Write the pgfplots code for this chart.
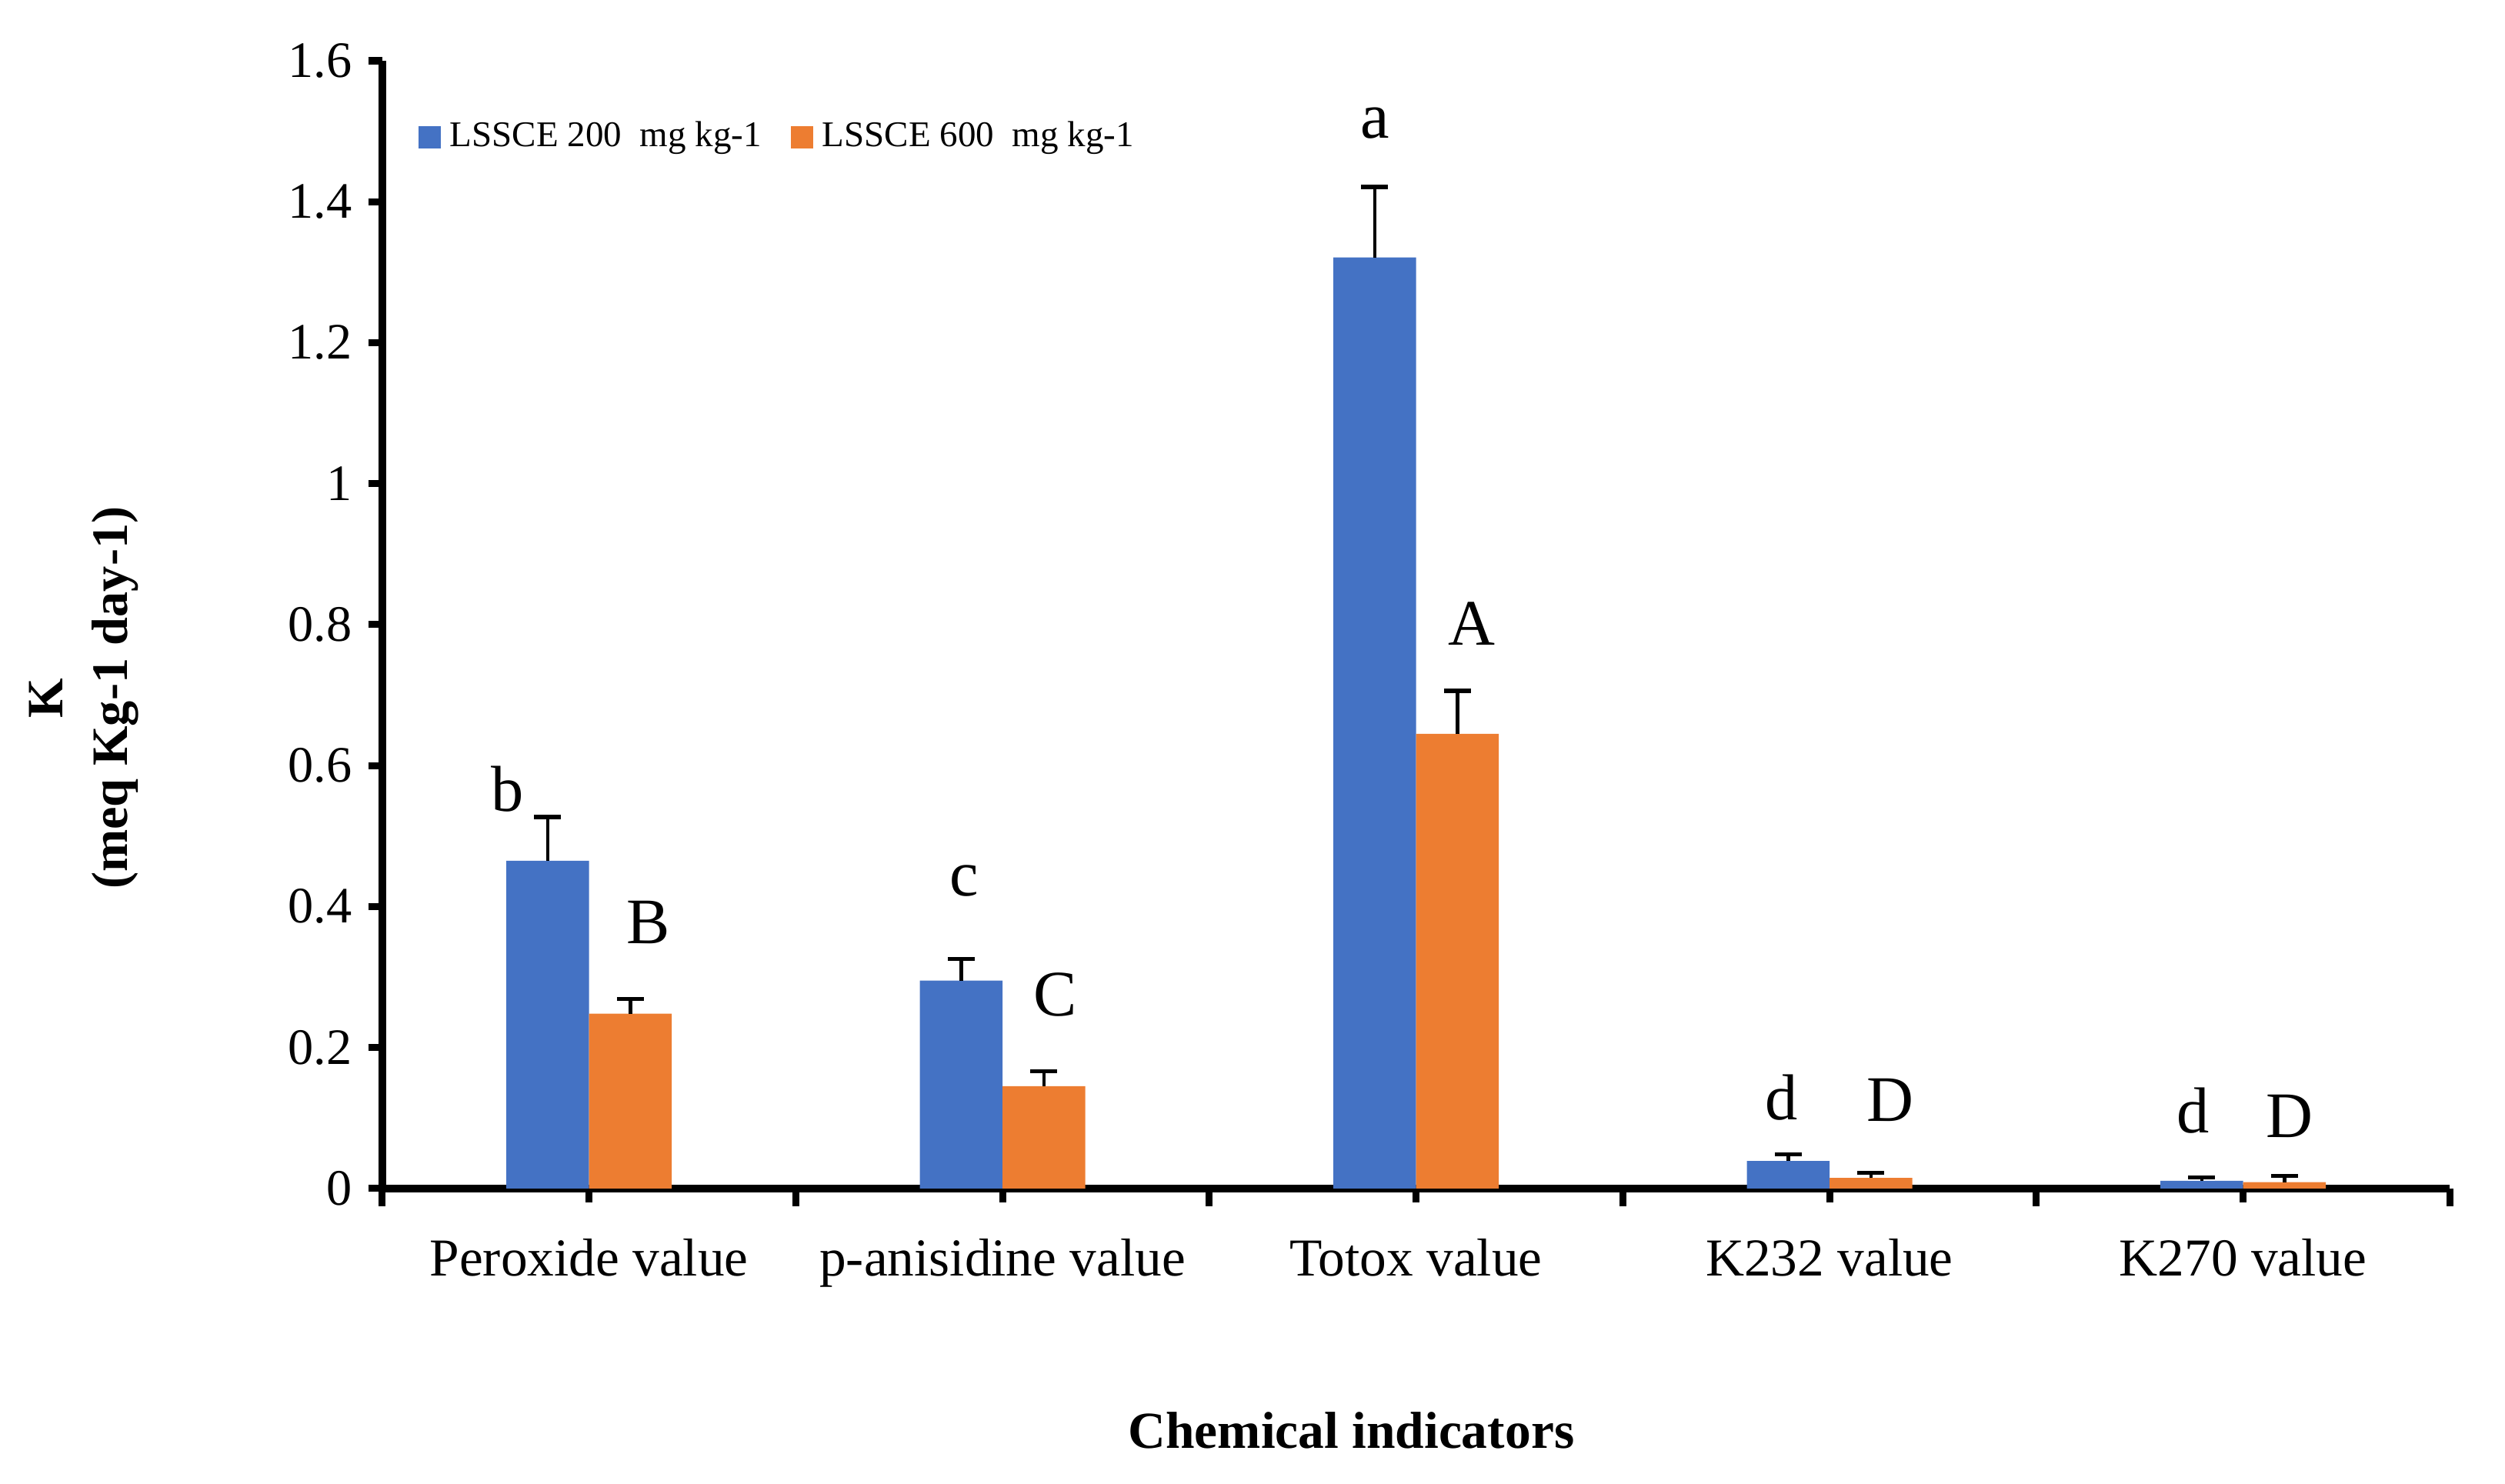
\documentclass[border=0pt]{standalone}
\usepackage{fontspec}
\setmainfont{Liberation Serif}
\usepackage{pgfplots}
\pgfplotsset{compat=1.18}
\definecolor{xlblue}{HTML}{4472C4}
\definecolor{xlorange}{HTML}{ED7D31}

\begin{document}
\begin{tikzpicture}
\path[use as bounding box] (-82.4pt,-63.6pt) rectangle (457.6pt,256.2pt);
\begin{axis}[
  at={(0,0)}, anchor=south west,
  scale only axis, width=445.7pt, height=243.1pt,
  ybar=0pt, bar width=0.2,
  xmin=-0.5, xmax=4.5, ymin=0, ymax=1.6,
  axis x line=bottom, axis y line=left,
  axis line style={-, line width=1.6pt},
  xtick={0,1,2,3,4},
  xticklabels={Peroxide value, p-anisidine value, Totox value, K232 value, K270 value},
  extra x ticks={-0.5,0.5,1.5,2.5,3.5,4.5},
  extra x tick labels={},
  extra x tick style={major tick length=3.8pt},
  ytick={0,0.2,...,1.6},
  tick align=outside,
  major tick length=3pt,
  tick style={black, line width=1.5pt},
  /pgf/number format/assume math mode=true,
  x tick label style={font=\fontsize{11.5}{13}\selectfont, yshift=-4.3pt},
  y tick label style={font=\fontsize{11}{13}\selectfont},
  xlabel={Chemical indicators},
  xlabel style={at={(axis description cs:0.4687,-0.2145)}, anchor=center, font=\fontsize{11.2}{13}\selectfont\bfseries},
  ylabel={K\\(meq Kg-1 day-1)},
  ylabel style={align=center, at={(axis description cs:-0.1444,0.435)}, anchor=center, font=\fontsize{11}{13.9}\selectfont\bfseries},
  legend style={draw=none, fill=none, at={(axis description cs:0.017,0.932)}, anchor=west,
    legend columns=2, font=\fontsize{7.8}{9}\selectfont, inner sep=0pt,
    /tikz/every even column/.append style={column sep=4.3pt}},
  legend image code/.code={\draw[#1, draw=none] (0pt,-2.4pt) rectangle (4.8pt,2.4pt);},
  error bars/error bar style={line width=0.75pt, black},
  error bars/error mark options={rotate=90, mark size=2.9pt, line width=0.85pt, black},
]
\addplot[fill=xlblue, draw=none,
  error bars/.cd, y dir=plus, y explicit]
  table[x=x, y=y, y error=e] {
x y e
0 0.465 0.062
1 0.295 0.031
2 1.321 0.100
3 0.039 0.009
4 0.011 0.005
};
\addlegendentry{LSSCE 200\ \ mg kg-1}
\addplot[fill=xlorange, draw=none,
  error bars/.cd, y dir=plus, y explicit]
  table[x=x, y=y, y error=e] {
x y e
0 0.248 0.021
1 0.145 0.021
2 0.645 0.061
3 0.015 0.007
4 0.009 0.009
};
\addlegendentry{LSSCE 600\ \ mg kg-1}
\begin{scope}[every node/.style={font=\fontsize{14}{16}\selectfont, inner sep=0pt, anchor=center}]
\node at (axis cs:-0.197,0.567) {b};
\node at (axis cs:0.143,0.377) {B};
\node at (axis cs:0.907,0.436) {c};
\node at (axis cs:1.127,0.275) {C};
\node at (axis cs:1.900,1.511) {a};
\node at (axis cs:2.135,0.801) {A};
\node at (axis cs:2.884,0.129) {d};
\node at (axis cs:3.147,0.125) {D};
\node at (axis cs:3.880,0.111) {d};
\node at (axis cs:4.112,0.102) {D};
\end{scope}
\end{axis}
\end{tikzpicture}
\end{document}
